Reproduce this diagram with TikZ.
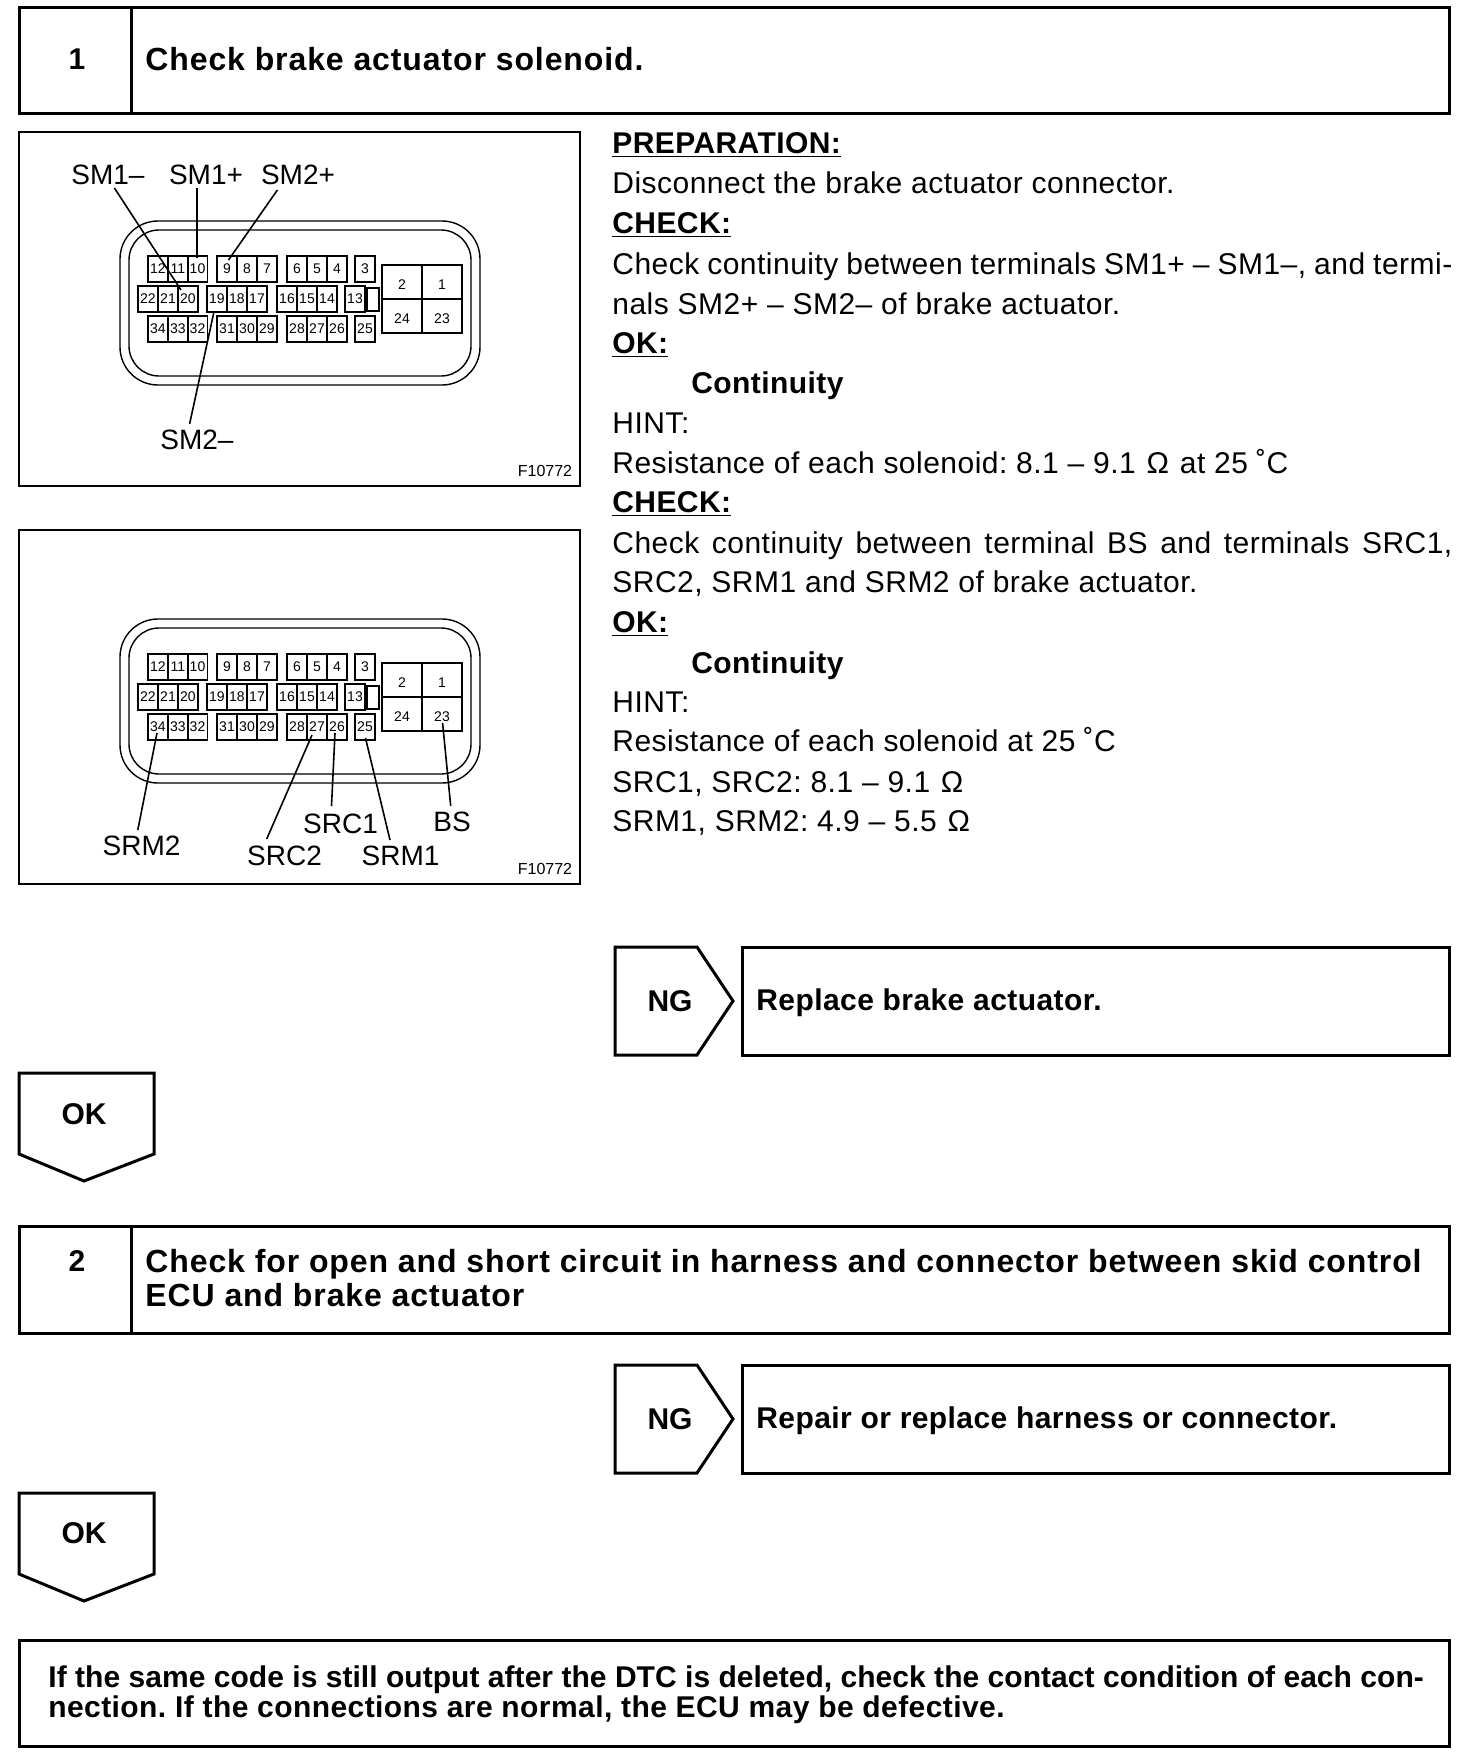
\documentclass[tikz,border=0pt]{standalone}
\usepackage{fontspec}
\setmainfont{Liberation Sans}
\newfontfamily\bodyfam[LetterSpace=1.6]{Liberation Sans}
\newfontfamily\boldfam[LetterSpace=1.4]{Liberation Sans}
\newfontfamily\headfam[LetterSpace=2.8]{Liberation Sans}
\newfontfamily\lastfam[LetterSpace=0.15]{Liberation Sans}
\frenchspacing
\tikzset{
  px/.style={x=0.5pt,y=-0.5pt},
  heavy/.style={draw=black,line width=1.5pt,line join=miter},
  frame/.style={draw=black,line width=1.3pt},
  body/.style={anchor=base west,inner sep=0pt,font=\bodyfam\fontsize{15}{16}\selectfont},
  boldtext/.style={anchor=base west,inner sep=0pt,font=\boldfam\fontsize{15}{16}\selectfont\bfseries},
  headtext/.style={anchor=base west,inner sep=0pt,font=\headfam\fontsize{16}{16}\selectfont\bfseries},
  lasttext/.style={anchor=base west,inner sep=0pt,font=\lastfam\fontsize{15}{16}\selectfont\bfseries},
  cen/.style={anchor=center,inner sep=0pt,font=\fontsize{15}{16}\selectfont\bfseries},
  lab/.style={anchor=center,inner sep=0pt,font=\fontsize{14}{16}\selectfont},
  fig/.style={anchor=center,inner sep=0pt,font=\fontsize{8}{10}\selectfont},
  cellbox/.style={draw=black,line width=0.75pt,minimum width=10pt,minimum height=13pt,inner sep=0pt,font=\fontsize{7}{8}\selectfont},
  bigcell/.style={draw=black,line width=1pt,minimum width=20pt,minimum height=17pt,inner sep=0pt,text height=7pt,text depth=0pt,font=\fontsize{7}{8}\selectfont},
  smallbox/.style={draw=black,line width=0.6pt,minimum width=6pt,minimum height=11.5pt,inner sep=0pt},
  leader/.style={draw=black,line width=0.8pt},
  shell/.style={draw=black,line width=0.7pt,rounded corners=19pt}
}
\newcommand{\jline}[1]{\makebox[420pt][s]{#1}}
\newcommand{\ohmsign}{\hspace{1pt}Ω\hspace{1pt}}
\newcommand{\degsign}{\hspace{4pt}˚}
\newcommand{\drawplug}[1]{%
  \draw[shell] (120,221) rectangle (480,385);
  \draw[shell,rounded corners=15pt] (129,230) rectangle (471,376);
  \foreach \n/\cx in {12/158,11/178,10/197.5,9/227,8/247,7/267,6/297,5/317,4/337,3/365}
    \node[cellbox] (#1c\n) at (\cx,269) {\n};
  \foreach \n/\cx in {22/148,21/168,20/188,19/217,18/237,17/257,16/287,15/307,14/327,13/355}
    \node[cellbox] (#1c\n) at (\cx,299) {\n};
  \foreach \n/\cx in {34/158,33/178,32/197.5,31/227,30/247,29/267,28/297,27/317,26/337,25/365}
    \node[cellbox] (#1c\n) at (\cx,329) {\n};
  \node[smallbox] (#1key) at (373,299.5) {};
  \foreach \n/\cx/\cy in {2/402/282,1/442/282,24/402/316,23/442/316}
    \node[bigcell] (#1c\n) at (\cx,\cy) {\n};
}
\begin{document}
\begin{tikzpicture}[px]
\useasboundingbox (0,0) rectangle (1472,1762);
% Step 1 header
\draw[heavy] (19,7) rectangle (1449,113);
\draw[heavy] (131.5,7) -- (131.5,113);
\node[cen] (n1) at (77,59) {1};
\node[headtext] (title1) at (145,70) {Check brake actuator solenoid.};
% Figure frames
\draw[frame] (19,132) rectangle (580,486);
\draw[frame] (19,530) rectangle (580,884);
% Plug 1
\drawplug{a}
\node[lab] (SMm) at (108,175) {SM1–};
\node[lab] (SMp) at (206,175) {SM1+};
\node[lab] (SNp) at (298,175) {SM2+};
\node[lab] (SNm) at (197,440) {SM2–};
\node[fig] (fa) at (545,471) {F10772};
\coordinate (l1a) at (114.4,188); \coordinate (l1b) at (181,290);
\coordinate (l2a) at (197,188);   \coordinate (l2b) at (197,258);
\coordinate (l3a) at (277.4,190); \coordinate (l3b) at (228.5,260);
\coordinate (l4a) at (189.6,424); \coordinate (l4b) at (213.7,313);
\draw[leader] (l1a) -- (l1b);
\draw[leader] (l2a) -- (l2b);
\draw[leader] (l3a) -- (l3b);
\draw[leader] (l4a) -- (l4b);
% Plug 2
\begin{scope}[shift={(0,398)}]
\drawplug{b}
\end{scope}
\node[lab] (SRMb) at (141.6,846) {SRM2};
\node[lab] (SRCb) at (284.5,856) {SRC2};
\node[lab] (SRCa) at (340.5,823.5) {SRC1};
\node[lab] (SRMa) at (400.5,856) {SRM1};
\node[lab] (BS) at (452,822) {BS};
\node[fig] (fb) at (545,868.6) {F10772};
\coordinate (m1a) at (137.8,830); \coordinate (m1b) at (157,733);
\coordinate (m2a) at (266.7,839); \coordinate (m2b) at (312,735);
\coordinate (m3a) at (331.5,806); \coordinate (m3b) at (335,733);
\coordinate (m4a) at (390,840);   \coordinate (m4b) at (365.5,738);
\coordinate (m5a) at (450.7,806); \coordinate (m5b) at (442.6,723);
\draw[leader] (m1a) -- (m1b);
\draw[leader] (m2a) -- (m2b);
\draw[leader] (m3a) -- (m3b);
\draw[leader] (m4a) -- (m4b);
\draw[leader] (m5a) -- (m5b);
% Right text
\node[boldtext] (t1) at (612,153.5) {\underline{PREPARATION:}};
\node[body] (t2) at (612,193.5) {Disconnect the brake actuator connector.};
\node[boldtext] (t3) at (612,233.5) {\underline{CHECK:}};
\node[body] (t4) at (612,274) {\jline{Check continuity between terminals SM1+ – SM1–, and termi-}};
\node[body] (t5) at (612,314.5) {nals SM2+ – SM2– of brake actuator.};
\node[boldtext] (t6) at (612,353) {\underline{OK:}};
\node[boldtext] (t7) at (691,393) {Continuity};
\node[body] (t8) at (612,433.5) {HINT:};
\node[body] (t9) at (612,473) {Resistance of each solenoid: 8.1 – 9.1 \ohmsign{} at 25\degsign{}C};
\node[boldtext] (t10) at (612,512) {\underline{CHECK:}};
\node[body] (t11) at (612,553) {\jline{Check continuity between terminal BS and terminals SRC1,}};
\node[body] (t12) at (612,592) {SRC2, SRM1 and SRM2 of brake actuator.};
\node[boldtext] (t13) at (612,632.5) {\underline{OK:}};
\node[boldtext] (t14) at (691,673) {Continuity};
\node[body] (t15) at (612,712) {HINT:};
\node[body] (t16) at (612,751.5) {Resistance of each solenoid at 25\degsign{}C};
\node[body] (t17) at (612,792) {SRC1, SRC2: 8.1 – 9.1 \ohmsign};
\node[body] (t18) at (612,831.5) {SRM1, SRM2: 4.9 – 5.5 \ohmsign};
% NG 1
\draw[heavy] (615,947) -- (697,947) -- (733,1001) -- (697,1055) -- (615,1055) -- cycle;
\node[cen] (ng1) at (670,1001) {NG};
\draw[heavy] (742,947) rectangle (1449,1055);
\node[boldtext] (r1) at (756,1010) {Replace brake actuator.};
% OK 1
\draw[heavy] (19,1073) -- (154,1073) -- (154,1154) -- (84,1181) -- (19,1154) -- cycle;
\node[cen] (ok1) at (84,1114) {OK};
% Step 2 header
\draw[heavy] (19,1226) rectangle (1449,1333);
\draw[heavy] (131.5,1226) -- (131.5,1333);
\node[cen] (n2) at (77,1261) {2};
\node[headtext] (title2) at (145,1272) {Check for open and short circuit in harness and connector between skid control};
\node[headtext] (title2b) at (145,1306) {ECU and brake actuator};
% NG 2
\draw[heavy] (615,1365) -- (697,1365) -- (733,1419) -- (697,1473) -- (615,1473) -- cycle;
\node[cen] (ng2) at (670,1419) {NG};
\draw[heavy] (742,1365) rectangle (1449,1473);
\node[boldtext] (r2) at (756,1428) {Repair or replace harness or connector.};
% OK 2
\draw[heavy] (19,1493) -- (154,1493) -- (154,1574) -- (84,1601) -- (19,1574) -- cycle;
\node[cen] (ok2) at (84,1533) {OK};
% Final box
\draw[heavy] (19,1640) rectangle (1449,1746);
\node[lasttext] (f1) at (48,1687) {If the same code is still output after the DTC is deleted, check the contact condition of each con-};
\node[boldtext] (f2) at (48,1717) {nection. If the connections are normal, the ECU may be defective.};
\end{tikzpicture}
\end{document}
